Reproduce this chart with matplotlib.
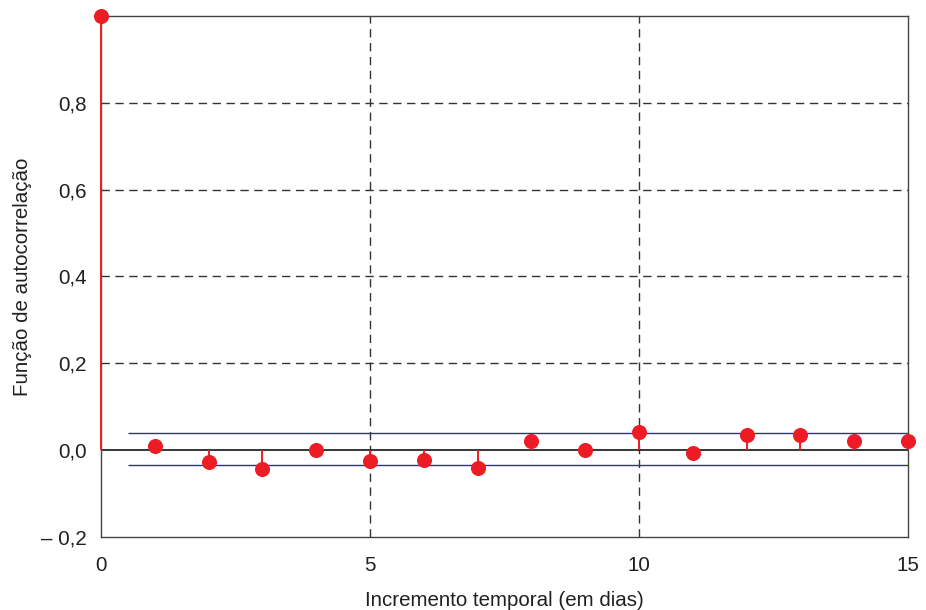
import matplotlib
matplotlib.use("Agg")
import matplotlib.pyplot as plt
import numpy as np

plt.rcParams['font.family'] = ['Liberation Sans', 'DejaVu Sans']

# Autocorrelation per lag (days)
lags = list(range(0, 16))
acf = [1.0, 0.009, -0.028, -0.043, 0.0, -0.026, -0.022, -0.040,
       0.020, 0.0, 0.042, -0.006, 0.034, 0.034, 0.020, 0.020]
conf_upper = 0.039
conf_lower = -0.035

xticks = [0, 5, 10, 15]
xtick_labels = ["0", "5", "10", "15"]
yticks = [-0.2, 0.0, 0.2, 0.4, 0.6, 0.8]
ytick_labels = ["\u2013 0,2", "0,0", "0,2", "0,4", "0,6", "0,8"]

red = "#ED1C24"
navy = "#2E3192"
grid_c = "#333333"

fig = plt.figure(figsize=(9.26, 6.10), dpi=100)
ax = fig.add_axes([0.109, 0.1197, 0.8716, 0.8541])

ax.set_xlim(0, 15)
ax.set_ylim(-0.2, 1.0)

# dashed reference grid
for yv in [0.2, 0.4, 0.6, 0.8]:
    ax.axhline(yv, color=grid_c, lw=1.0, ls=(0, (6, 4)), zorder=1)
for xv in [5, 10]:
    ax.axvline(xv, color=grid_c, lw=1.0, ls=(0, (6, 4)), zorder=1)

ax.axhline(0, color="black", lw=1.1, zorder=2)

# confidence band
ax.hlines([conf_upper, conf_lower], 0.5, 15, colors=navy, lw=1.0, zorder=2)

# stems and markers
ax.vlines(lags, 0, acf, colors=red, lw=1.4, zorder=3, clip_on=False)
ax.plot(lags, acf, 'o', color=red, ms=9.8, zorder=4, clip_on=False)

ax.set_xticks(xticks)
ax.set_xticklabels(xtick_labels)
ax.set_yticks(yticks)
ax.set_yticklabels(ytick_labels)
ax.tick_params(length=0, labelsize=14.8, colors="#231F20")
ax.tick_params(axis='x', pad=14)
ax.tick_params(axis='y', pad=10)

for s in ax.spines.values():
    s.set_color("#444444")
    s.set_linewidth(1.0)
    s.set_zorder(2.5)

ax.set_xlabel("Incremento temporal (em dias)", fontsize=14.8, color="#231F20", labelpad=11)
ax.set_ylabel("Função de autocorrelação", fontsize=14.8, color="#231F20", labelpad=7)

fig.savefig("out.png", dpi=100)
